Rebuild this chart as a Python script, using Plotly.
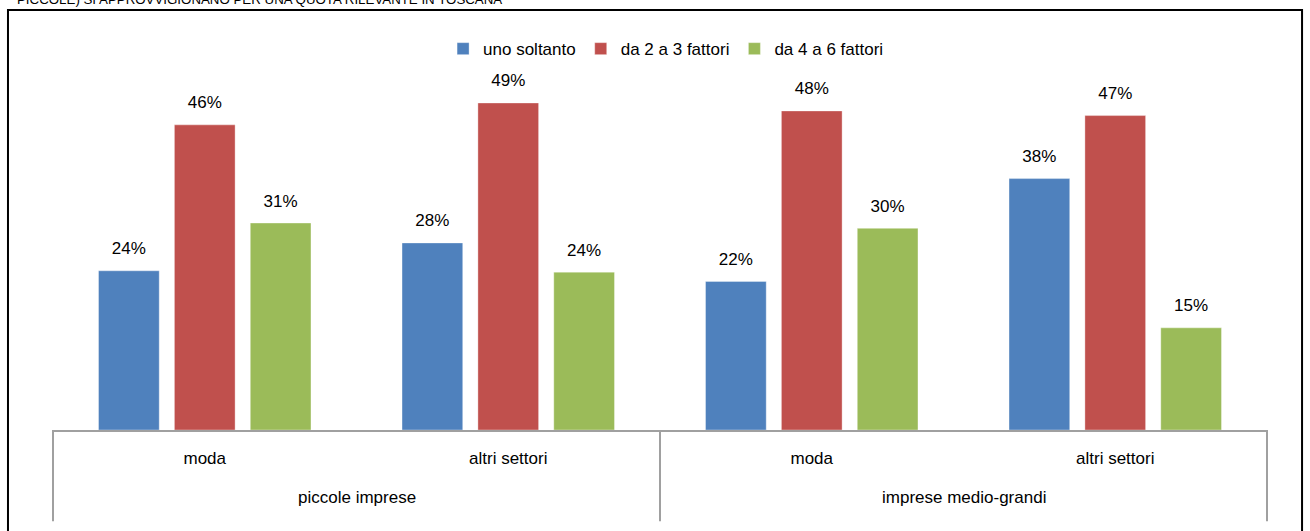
import plotly.graph_objects as go

# dati (quote)
gruppi = ["piccole imprese", "piccole imprese", "imprese medio-grandi", "imprese medio-grandi"]
settori = ["moda", "altri settori", "moda", "altri settori"]
gruppi_etichette = ["piccole imprese", "imprese medio-grandi"]

serie = ["uno soltanto", "da 2 a 3 fattori", "da 4 a 6 fattori"]
uno_soltanto = [0.24, 0.282, 0.224, 0.379]
da_2_a_3 = [0.46, 0.493, 0.481, 0.474]
da_4_a_6 = [0.312, 0.238, 0.304, 0.154]
colori = ["#4F81BD", "#C0504D", "#9BBB59"]

titolo = "PICCOLE) SI APPROVVIGIONANO PER UNA QUOTA RILEVANTE IN TOSCANA"

FONT = "Liberation Sans, Arial, sans-serif"
FS = 17

# categorie uniche (gruppo + settore), etichettate solo col settore
cats = [g + " | " + s for g, s in zip(gruppi, settori)]

fig = go.Figure()
valori = [uno_soltanto, da_2_a_3, da_4_a_6]
for nome, vals, col in zip(serie, valori, colori):
    fig.add_trace(go.Bar(
        x=cats, y=vals, name=nome,
        marker=dict(color=col, line=dict(color="rgba(255,255,255,0.35)", width=1)),
        offsetgroup=nome,
    ))
    # etichette sopra le barre (scatter raggruppato per avere piu' distacco)
    fig.add_trace(go.Scatter(
        x=cats, y=vals, mode="markers+text",
        text=[f"{round(v * 100)}%" for v in vals],
        textposition="top center",
        textfont=dict(family=FONT, size=FS, color="#000"),
        marker=dict(size=18, color="rgba(0,0,0,0)"),
        offsetgroup=nome, showlegend=False, hoverinfo="skip",
    ))

fig.update_layout(
    width=1310, height=531,
    margin=dict(l=52, r=42, t=32, b=101),
    paper_bgcolor="white", plot_bgcolor="white",
    barmode="group", scattermode="group",
    bargap=0.25, bargroupgap=0.2,
    font=dict(family=FONT, size=FS, color="#000"),
    legend=dict(orientation="h", x=0.505, xanchor="center", y=0.957, yanchor="middle",
                font=dict(family=FONT, size=FS, color="#000"), itemclick=False),
    xaxis=dict(type="category", tickvals=cats, ticktext=settori,
               showline=True, linecolor="#a0a0a0", linewidth=2,
               ticks="", ticklabelstandoff=12, showgrid=False,
               tickfont=dict(family=FONT, size=FS, color="#000")),
    yaxis=dict(range=[0, 0.6], visible=False),
    showlegend=True,
)

# secondo livello dell'asse: gruppi di imprese e divisori
n = len(cats)
for i, g in enumerate(gruppi_etichette):
    fig.add_annotation(text=g, xref="x", yref="paper", x=2 * i + 0.5, y=-0.17,
                       yanchor="middle", showarrow=False,
                       font=dict(family=FONT, size=FS, color="#000"))
for xd in [-0.5, 1.5, n - 0.5]:
    fig.add_shape(type="line", xref="x", yref="paper", x0=xd, x1=xd, y0=0, y1=-0.229,
                  line=dict(color="#a0a0a0", width=2))

# cornice nera esterna
fig.add_shape(type="rect", xref="paper", yref="paper",
              x0=-0.0362, x1=1.028, y0=-0.3, y1=1.0553,
              line=dict(color="#000", width=2), fillcolor="rgba(0,0,0,0)", layer="below")

fig.add_annotation(text=titolo, xref="paper", yref="paper", x=-0.0305, y=1.0578,
                   xanchor="left", yanchor="bottom", showarrow=False,
                   font=dict(family=FONT, size=13.3, color="#000"))

fig.write_html("out.html", config={"displayModeBar": False},
               post_script="document.body.style.margin='0';")
